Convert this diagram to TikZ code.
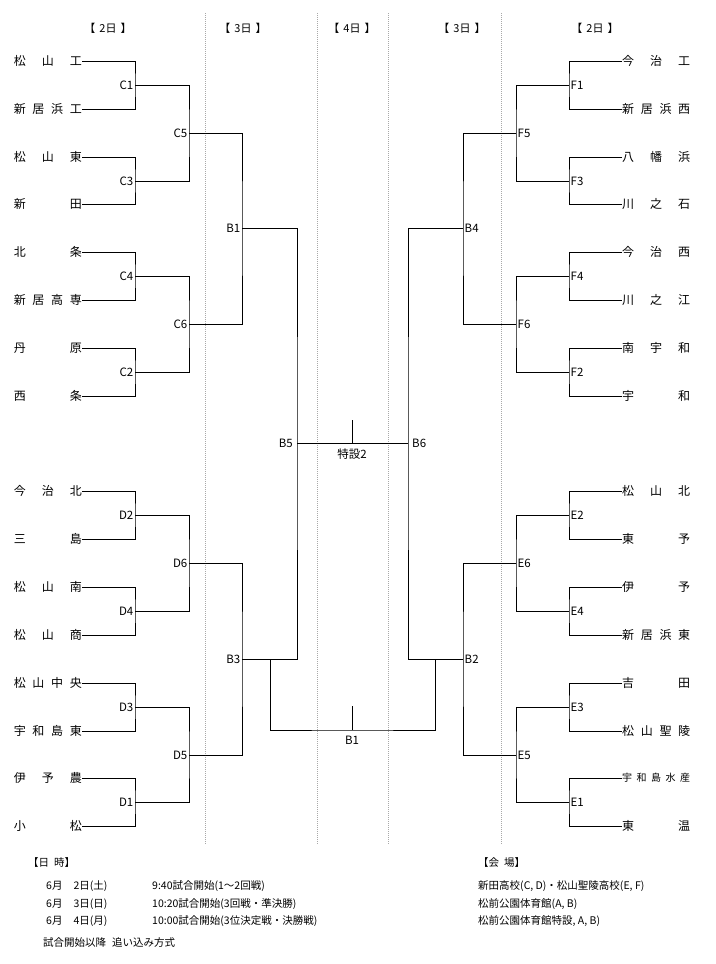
\documentclass[tikz,border=0pt]{standalone}
\usepackage{fontspec}
\setmainfont{Noto Sans CJK JP}
\usepackage{tikz}
\usetikzlibrary{positioning}
\definecolor{SepGray}{HTML}{A8A8A8}

\tikzset{
  team/.style={inner sep=0pt, font=\fontsize{12}{14}\selectfont},
  lab/.style={inner sep=1.5pt, font=\fontsize{11.5}{13}\selectfont},
  head/.style={inner sep=0pt, font=\fontsize{11}{13}\selectfont},
  info/.style={inner sep=0pt, anchor=west, font=\fontsize{10.5}{12}\selectfont},
  bracket/.style={line width=0.9pt, black},
  daysep/.style={line width=0.9pt, SepGray, dash pattern=on 1pt off 1pt}
}

\begin{document}
\begin{tikzpicture}[x=1pt, y=-1pt]
\useasboundingbox (0,0) rectangle (715,964);

% Day separators
\foreach \x in {205,317,388,501}
  \draw[daysep] (\x,13) -- (\x,845);

% Day headers
\foreach \n/\x/\dnum in {hA/108/2, hB/243/3, hC/352/4, hD/462/3, hE/595/2}
  \node[head] (\n) at (\x,28) {【\hspace{4pt}{\dnum}日\hspace{4pt}】};

% Left teams
\foreach \n/\y/\txt in {
  l1/61/松 山 工, l2/109/新 居 浜 工, l3/157/松 山 東, l4/204/新 田,
  l5/252/北 条, l6/300/新 居 高 専, l7/348/丹 原, l8/396/西 条,
  l9/491/今 治 北, l10/539/三 島, l11/587/松 山 南, l12/635/松 山 商,
  l13/683/松 山 中 央, l14/731/宇 和 島 東, l15/778/伊 予 農, l16/826/小 松}
  \node[team, anchor=east] (\n) at (82,\y) {\makebox[68pt][s]{\txt}};

% Right teams
\foreach \n/\y/\txt in {
  r1/61/今 治 工, r2/109/新 居 浜 西, r3/157/八 幡 浜, r4/204/川 之 石,
  r5/252/今 治 西, r6/300/川 之 江, r7/348/南 宇 和, r8/396/宇 和,
  r9/491/松 山 北, r10/539/東 予, r11/587/伊 予, r12/635/新 居 浜 東,
  r13/683/吉 田, r14/731/松 山 聖 陵, r16/826/東 温}
  \node[team, anchor=west] (\n) at (622,\y) {\makebox[68pt][s]{\txt}};
\node[team, anchor=west, font=\fontsize{10}{12}\selectfont] (r15) at (622,778)
  {\makebox[68pt][s]{宇 和 島 水 産}};

% First round, left
\foreach \m/\y/\a/\b in {C1/85/l1/l2, C3/181/l3/l4, C4/276/l5/l6, C2/372/l7/l8,
  D2/515/l9/l10, D4/611/l11/l12, D3/707/l13/l14, D1/802/l15/l16}
{
  \node[lab, anchor=east] (\m) at (135,\y) {\m};
  \draw[bracket] (\a.east) -| (\m.east) |- (\b.east);
}

% Second round, left
\foreach \m/\y/\a/\b in {C5/133/C1/C3, C6/324/C4/C2, D6/563/D2/D4, D5/755/D3/D1}
{
  \node[lab, anchor=east] (\m) at (189,\y) {\m};
  \draw[bracket] (\a.east) -| (\m.east) |- (\b.east);
}

% First round, right
\foreach \m/\y/\a/\b in {F1/85/r1/r2, F3/181/r3/r4, F4/276/r5/r6, F2/372/r7/r8,
  E2/515/r9/r10, E4/611/r11/r12, E3/707/r13/r14, E1/802/r15/r16}
{
  \node[lab, anchor=west] (\m) at (569,\y) {\m};
  \draw[bracket] (\a.west) -| (\m.west) |- (\b.west);
}

% Second round, right
\foreach \m/\y/\a/\b in {F5/133/F1/F3, F6/324/F4/F2, E6/563/E2/E4, E5/755/E3/E1}
{
  \node[lab, anchor=west] (\m) at (516,\y) {\m};
  \draw[bracket] (\a.west) -| (\m.west) |- (\b.west);
}

% Day 3
\node[lab, anchor=east] (B1) at (242,228) {B1};
\node[lab, anchor=east] (B3) at (242,659) {B3};
\node[lab, anchor=west] (B4) at (463,228) {B4};
\node[lab, anchor=west] (B2) at (463,659) {B2};
\draw[bracket] (C5.east) -| (B1.east) |- (C6.east);
\draw[bracket] (D6.east) -| (B3.east) |- (D5.east);
\draw[bracket] (F5.west) -| (B4.west) |- (F6.west);
\draw[bracket] (E6.west) -| (B2.west) |- (E5.west);

\node[lab, anchor=east, inner xsep=4pt] (B5) at (297,443) {B5};
\node[lab, anchor=west, inner xsep=4pt] (B6) at (408,443) {B6};
\draw[bracket] (B1.east) -| (B5.east) |- (B3.east);
\draw[bracket] (B4.west) -| (B6.west) |- (B2.west);

% Final
\coordinate (fin) at (352,443);
\draw[bracket] (B5.east) -- (B6.west);
\draw[bracket] (fin) -- ++(0,-23);
\node[lab, below=4pt of fin] (finlab) {特設2};

% Third place
\coordinate (b3m) at (270,659);
\coordinate (b2m) at (435,659);
\coordinate (thr) at (352,730);
\draw[bracket] (b3m) |- (thr) -| (b2m);
\draw[bracket] (thr) -- ++(0,-24);
\node[lab, below=4pt of thr] (thrlab) {B1};

% Schedule
\node[info] (dt) at (28,862) {【日\hspace{5pt}時】};
\foreach \n/\y/\dd/\tt in {s1/886/2日(土)/9:40試合開始(1〜2回戦),
  s2/904/3日(日)/10:20試合開始(3回戦・準決勝),
  s3/921/4日(月)/10:00試合開始(3位決定戦・決勝戦)}
{
  \node[info] (\n d) at (46,\y) {6月\hspace{11pt}\dd};
  \node[info] (\n t) at (152,\y) {\tt};
}
\node[info] (s4) at (43,943) {試合開始以降\hspace{6pt}追い込み方式};

% Venues
\node[info] (vt) at (478,862) {【会\hspace{5pt}場】};
\node[info] (v1) at (478,886) {新田高校(C,\ D)・松山聖陵高校(E,\ F)};
\node[info] (v2) at (478,904) {松前公園体育館(A,\ B)};
\node[info] (v3) at (478,921) {松前公園体育館特設,\ A,\ B)};
\end{tikzpicture}
\end{document}
